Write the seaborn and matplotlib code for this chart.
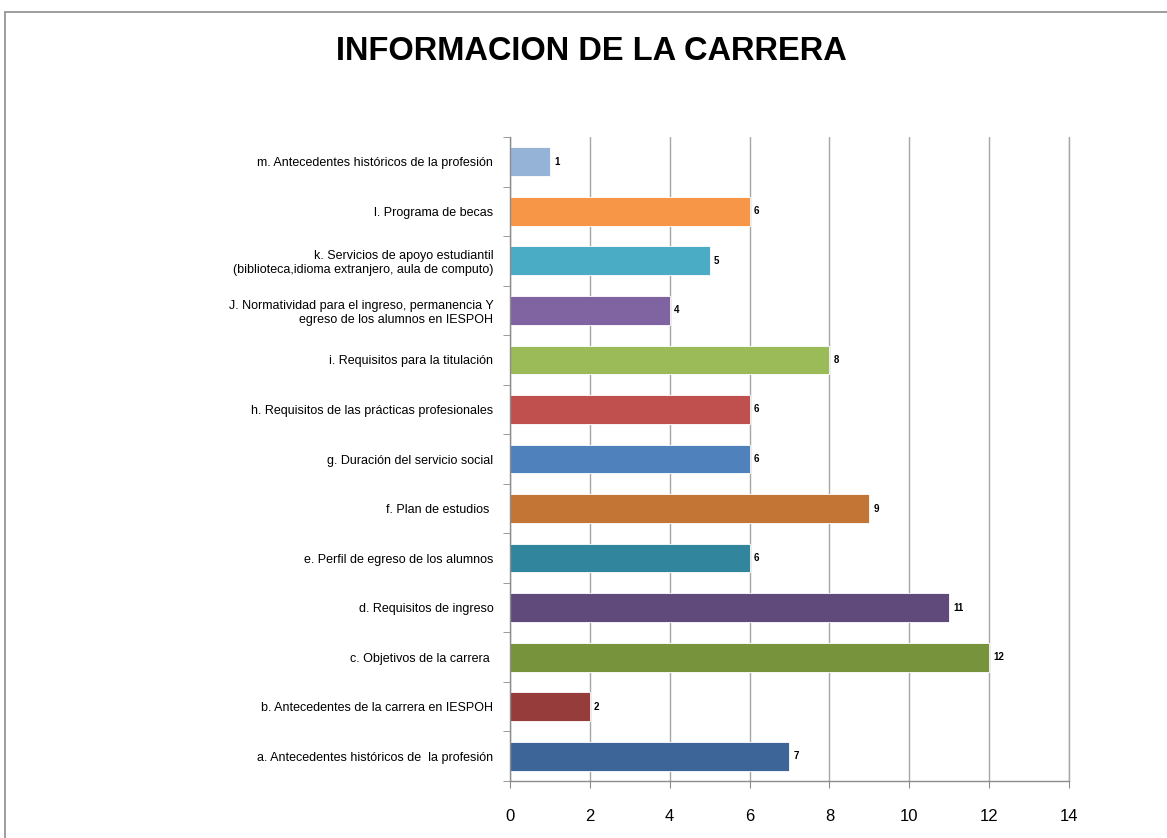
import matplotlib
matplotlib.use("Agg")
import matplotlib.pyplot as plt
import matplotlib.patches as mpatches
import numpy as np
import pandas as pd
import seaborn as sns

categories = [
    "a. Antecedentes históricos de  la profesión",
    "b. Antecedentes de la carrera en IESPOH",
    "c. Objetivos de la carrera ",
    "d. Requisitos de ingreso",
    "e. Perfil de egreso de los alumnos",
    "f. Plan de estudios ",
    "g. Duración del servicio social",
    "h. Requisitos de las prácticas profesionales",
    "i. Requisitos para la titulación",
    "J. Normatividad para el ingreso, permanencia Y\negreso de los alumnos en IESPOH",
    "k. Servicios de apoyo estudiantil\n(biblioteca,idioma extranjero, aula de computo)",
    "l. Programa de becas",
    "m. Antecedentes históricos de la profesión",
]
values = [7, 2, 12, 11, 6, 9, 6, 6, 8, 4, 5, 6, 1]
colors = ["#3d6598", "#963c3b", "#77933c", "#604a7b", "#31859c", "#c27535", "#4f81bd",
          "#c0504d", "#9bbb59", "#8064a2", "#4bacc6", "#f79646", "#95b3d7"]
x_ticks = [0, 2, 4, 6, 8, 10, 12, 14]

sns.set_style("white")
plt.rcParams["font.family"] = ["Liberation Sans", "DejaVu Sans"]
plt.rcParams["text.color"] = "black"
plt.rcParams["xtick.color"] = "black"
plt.rcParams["ytick.color"] = "black"

df = pd.DataFrame({"tema": categories, "valor": values})
order = categories[::-1]

fig = plt.figure(figsize=(11.67, 8.38), dpi=100)
fig.patches.append(mpatches.Rectangle((5 / 1167, -0.1), 1.2, 0.1 + 1 - 12 / 838,
                                      transform=fig.transFigure, fill=False,
                                      edgecolor="#8c8c8c", linewidth=1.2))
ax = fig.add_axes([0.437, 0.068, 0.479, 0.7685])

sns.barplot(data=df, x="valor", y="tema", hue="tema", order=order, hue_order=categories,
            palette=dict(zip(categories, colors)), legend=False, width=0.58,
            edgecolor="white", linewidth=0.6, saturation=1, ax=ax)

for cont in ax.containers:
    ax.bar_label(cont, padding=3, fontsize=7, fontweight="bold")

ax.set_xlim(0, 14)
ax.set_ylim(len(categories) - 0.5, -0.5)
ax.set_xticks(x_ticks)
ax.set_xticklabels([str(t) for t in x_ticks], fontsize=12)
ax.set_xlabel("")
ax.set_ylabel("")
ax.xaxis.grid(True, color="#a6a6a6", linewidth=1)
ax.axvline(14, color="#a6a6a6", linewidth=1, zorder=0, clip_on=False)
ax.yaxis.grid(False)
ax.set_axisbelow(True)

ax.set_yticks(np.arange(len(categories) + 1) - 0.5, minor=True)
ax.tick_params(axis="y", which="major", length=0, pad=12, labelsize=9)
ax.tick_params(axis="y", which="minor", length=5, color="#8c8c8c", direction="out", left=True)
ax.tick_params(axis="x", which="major", length=5, color="#8c8c8c", direction="out",
               bottom=True, pad=15)

for s in ["top", "right"]:
    ax.spines[s].set_visible(False)
for s in ["left", "bottom"]:
    ax.spines[s].set_color("#8c8c8c")
    ax.spines[s].set_linewidth(1)

fig.text(591 / 1167, 1 - 52 / 838, "INFORMACION DE LA CARRERA", ha="center", va="center",
         fontsize=23.5, fontweight="bold", color="black")

fig.savefig("out.png", dpi=100)
